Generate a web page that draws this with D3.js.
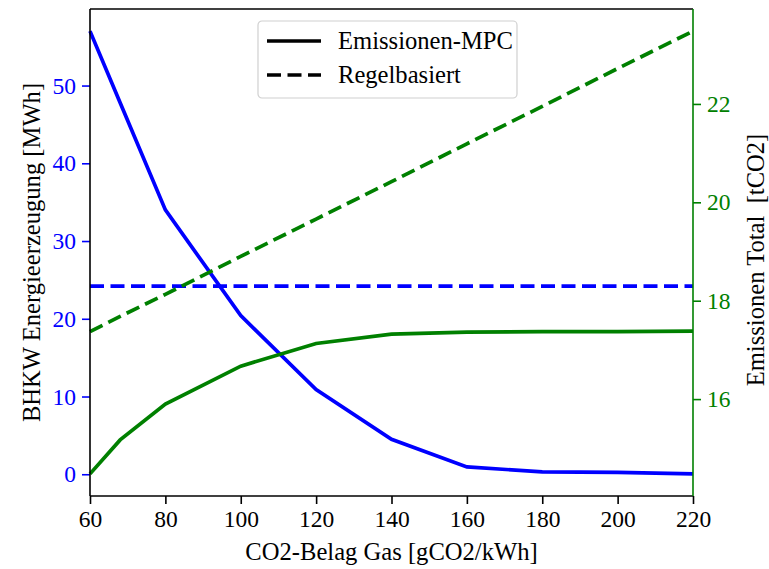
<!DOCTYPE html>
<html>
<head>
<meta charset="utf-8">
<script src="https://cdn.jsdelivr.net/npm/d3@7"></script>
<style>
  body { margin: 0; background: #fff; }
</style>
</head>
<body>
<div id="chart"></div>
<script>
// CO2 intensity of gas (x axis)
var co2Belag = [60, 68, 80, 100, 120, 140, 160, 180, 200, 220];

// BHKW energy [MWh] (left axis, blue)
var energieMPC = [57.0, 47.8, 34.0, 20.4, 10.9, 4.5, 0.95, 0.3, 0.25, 0.05];
var energieRegel = [24.2, 24.2, 24.2, 24.2, 24.2, 24.2, 24.2, 24.2, 24.2, 24.2];

// total emissions [tCO2] (right axis, green)
var emissionMPC = [14.48, 15.17, 15.9, 16.67, 17.13, 17.32, 17.36, 17.37, 17.37, 17.38];
var emissionRegel = [17.37, 17.68, 18.13, 18.9, 19.66, 20.42, 21.19, 21.95, 22.72, 23.48];

var xTicks = [60, 80, 100, 120, 140, 160, 180, 200, 220];
var leftTicks = [0, 10, 20, 30, 40, 50];
var rightTicks = [16, 18, 20, 22];

var svgWidth = 769;
var svgHeight = 569;
var margin = { top: 9, right: 76, bottom: 73, left: 90 };
var width = svgWidth - margin.left - margin.right;
var height = svgHeight - margin.top - margin.bottom;

var blue = "#0000ff";
var green = "#008000";
var serif = "'Liberation Serif', 'Times New Roman', Times, 'DejaVu Serif', serif";
var tickSize = "23.5px";
var labelSize = "24.6px";

var svg = d3.select("#chart")
  .append("svg")
  .attr("width", svgWidth)
  .attr("height", svgHeight)
  .style("font-family", serif);

var chartGroup = svg.append("g")
  .attr("transform", `translate(${margin.left}, ${margin.top})`);

// scales, with matplotlib-like 5% padding
var xScale = d3.scaleLinear().domain([60, 220]).range([0, width]);

var lMin = d3.min(energieMPC.concat(energieRegel)), lMax = d3.max(energieMPC.concat(energieRegel));
var lPad = (lMax - lMin) * 0.05;
var yLeft = d3.scaleLinear().domain([lMin - lPad, lMax + lPad]).range([height, 0]);

var rMin = d3.min(emissionMPC.concat(emissionRegel)), rMax = d3.max(emissionMPC.concat(emissionRegel));
var rPad = (rMax - rMin) * 0.05;
var yRight = d3.scaleLinear().domain([rMin - rPad, rMax + rPad]).range([height, 0]);

// lines
var lineLeft = d3.line().x((d, i) => xScale(co2Belag[i])).y(d => yLeft(d));
var lineRight = d3.line().x((d, i) => xScale(co2Belag[i])).y(d => yRight(d));

var plot = chartGroup.append("g");

plot.append("path").datum(energieMPC)
  .attr("d", lineLeft).attr("fill", "none")
  .attr("stroke", blue).attr("stroke-width", 3.7);

plot.append("path").datum(energieRegel)
  .attr("d", lineLeft).attr("fill", "none")
  .attr("stroke", blue).attr("stroke-width", 3.7)
  .attr("stroke-dasharray", "14,6.5");

plot.append("path").datum(emissionMPC)
  .attr("d", lineRight).attr("fill", "none")
  .attr("stroke", green).attr("stroke-width", 3.7);

plot.append("path").datum(emissionRegel)
  .attr("d", lineRight).attr("fill", "none")
  .attr("stroke", green).attr("stroke-width", 3.7)
  .attr("stroke-dasharray", "14,6.5");

// axes
function styleAxis(g, color) {
  g.select(".domain").remove();
  g.selectAll("line").attr("stroke", color).attr("stroke-width", 1.6);
  g.selectAll("text").attr("fill", color)
    .style("font-size", tickSize)
    .style("font-family", serif);
}

var bottomAxis = d3.axisBottom(xScale).tickValues(xTicks).tickSize(8).tickPadding(6);
var xAxis = chartGroup.append("g")
  .attr("transform", `translate(0, ${height})`)
  .call(bottomAxis);
styleAxis(xAxis, "#000");

var leftAxis = d3.axisLeft(yLeft).tickValues(leftTicks).tickSize(8).tickPadding(6);
var yAxisL = chartGroup.append("g").call(leftAxis);
styleAxis(yAxisL, blue);

var rightAxis = d3.axisRight(yRight).tickValues(rightTicks).tickSize(8).tickPadding(6);
var yAxisR = chartGroup.append("g")
  .attr("transform", `translate(${width}, 0)`)
  .call(rightAxis);
styleAxis(yAxisR, green);

// spines
chartGroup.append("line").attr("x1", 0).attr("x2", width).attr("y1", 0).attr("y2", 0)
  .attr("stroke", "#000").attr("stroke-width", 1.6);
chartGroup.append("line").attr("x1", 0).attr("x2", width).attr("y1", height).attr("y2", height)
  .attr("stroke", "#000").attr("stroke-width", 1.6);
chartGroup.append("line").attr("x1", 0).attr("x2", 0).attr("y1", 0).attr("y2", height)
  .attr("stroke", "#000").attr("stroke-width", 1.6);
chartGroup.append("line").attr("x1", width).attr("x2", width).attr("y1", 0).attr("y2", height)
  .attr("stroke", green).attr("stroke-width", 1.6);

// axis labels
chartGroup.append("text")
  .attr("transform", "rotate(-90)")
  .attr("x", -height / 2)
  .attr("y", -margin.left + 40)
  .attr("text-anchor", "middle")
  .style("font-size", labelSize)
  .text("BHKW Energieerzeugung [MWh]");

chartGroup.append("text")
  .attr("transform", "rotate(-90)")
  .attr("x", -251)
  .attr("y", width + 71)
  .attr("text-anchor", "middle")
  .style("font-size", labelSize)
  .style("white-space", "pre")
  .text("Emissionen Total  [tCO2]");

chartGroup.append("text")
  .attr("x", width / 2)
  .attr("y", height + 64)
  .attr("text-anchor", "middle")
  .style("font-size", labelSize)
  .text("CO2-Belag Gas [gCO2/kWh]");

// legend
var legendItems = [
  { label: "Emissionen-MPC", dash: null },
  { label: "Regelbasiert", dash: "14,6.5" }
];
var legend = chartGroup.append("g").attr("transform", "translate(168, 12)");
legend.append("rect")
  .attr("width", 259).attr("height", 77)
  .attr("rx", 4).attr("ry", 4)
  .attr("fill", "#fff").attr("stroke", "#d0d0d0").attr("stroke-width", 1.2);
legendItems.forEach((item, i) => {
  var g = legend.append("g").attr("transform", `translate(0, ${20 + i * 34})`);
  g.append("line")
    .attr("x1", 9).attr("x2", 63).attr("y1", 0).attr("y2", 0)
    .attr("stroke", "#000").attr("stroke-width", 3.7)
    .attr("stroke-dasharray", item.dash);
  g.append("text")
    .attr("x", 80).attr("y", 8)
    .style("font-size", labelSize)
    .text(item.label);
});
</script>
</body>
</html>
